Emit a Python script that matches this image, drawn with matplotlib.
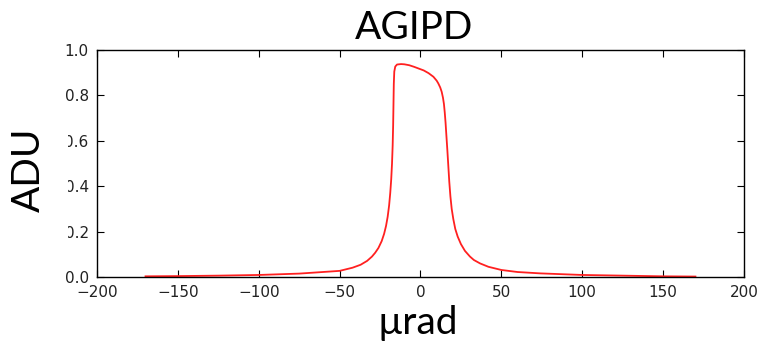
import matplotlib
matplotlib.use("Agg")
import matplotlib.pyplot as plt
from matplotlib.patches import Rectangle

# rocking curve (angle in µrad, signal in ADU)
angle = [-170, -150, -125, -100, -75, -50, -42, -37, -33, -30, -28, -26, -24,
         -22.5, -21.3, -20.3, -19.4, -18.7, -18.1, -17.6, -17.2, -16.9, -16.7,
         -16.5, -16.2, -15.6, -14.5, -12, -10, -7, -4, -1, 2, 5, 8, 10, 11,
         12.2, 13.1, 13.9, 14.5, 15.0, 15.5, 16.0, 16.6, 17.2, 17.8, 18.5,
         19.3, 20.3, 21.5, 23, 25, 27.5, 30.6, 33, 36.8, 42, 50, 60, 74, 100,
         125, 150, 170]
adu = [0.003, 0.004, 0.006, 0.009, 0.015, 0.027, 0.041, 0.054, 0.071, 0.090,
       0.107, 0.128, 0.158, 0.190, 0.225, 0.265, 0.315, 0.370, 0.430, 0.500,
       0.580, 0.670, 0.760, 0.850, 0.905, 0.927, 0.936, 0.938, 0.937, 0.933,
       0.926, 0.918, 0.910, 0.898, 0.882, 0.865, 0.853, 0.835, 0.816, 0.790,
       0.762, 0.725, 0.680, 0.625, 0.560, 0.490, 0.420, 0.355, 0.300, 0.255,
       0.212, 0.178, 0.145, 0.115, 0.090, 0.075, 0.060, 0.045, 0.031, 0.022,
       0.016, 0.009, 0.006, 0.003, 0.002]

xticks = [-200, -150, -100, -50, 0, 50, 100, 150, 200]
yticks = [0.0, 0.2, 0.4, 0.6, 0.8, 1.0]

fig = plt.figure(figsize=(7.59, 3.46), dpi=100)
fig.patch.set_facecolor('white')
ax = fig.add_axes([0.1278, 0.1994, 0.8524, 0.6561])

ax.plot(angle, adu, color='#ff2020', linewidth=1.3)

ax.set_xlim(-200, 200)
ax.set_ylim(0, 1)
ax.set_xticks(xticks)
ax.set_yticks(yticks)
ax.set_yticklabels([f"{v:.1f}" for v in yticks])
ax.tick_params(direction='in', top=True, right=True, length=5, width=0.8,
               labelsize=11, pad=6, labelcolor='#222222')
for spine in ax.spines.values():
    spine.set_linewidth(1.0)

big = dict(family=['Lato', 'DejaVu Sans'], fontsize=28, color='black')
fig.text(0.546, 0.887, "AGIPD", ha='center', va='baseline', **big)
fig.text(0.551, 0.035, "µrad", ha='center', va='baseline', **big)

# the slide crops the left edge of some y tick labels
fig.add_artist(Rectangle((0, 0.277), 0.0896, 0.42, transform=fig.transFigure,
                         facecolor='white', edgecolor='none', zorder=5))
fig.text(0.038, 0.51, "ADU", ha='center', va='center', rotation=90,
         zorder=6, **big)

plt.savefig("out.png", dpi=100, facecolor='white')
